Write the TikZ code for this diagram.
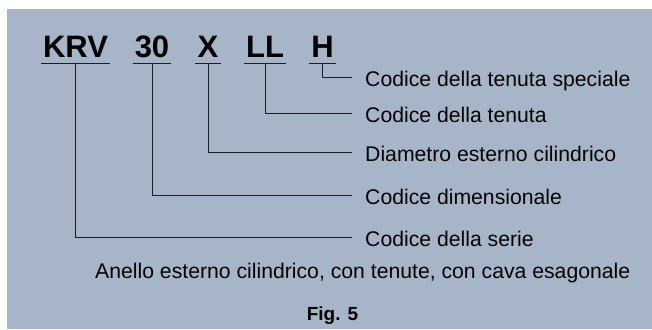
\documentclass[tikz,border=0pt]{standalone}
\usepackage{fontspec}
\setmainfont{Liberation Sans}
\setsansfont{Liberation Sans}
\usepackage{tikz}
\usetikzlibrary{positioning}
\definecolor{panelblue}{HTML}{A7B5C8}
\definecolor{leadgray}{HTML}{1E1E1E}

\begin{document}
\begin{tikzpicture}[
    x=1pt, y=-1pt,
    font=\sffamily,
    code/.style={anchor=base, inner xsep=2pt, inner ysep=0pt, text depth=6pt, font=\sffamily\bfseries\fontsize{31}{31}\selectfont},
    desc/.style={anchor=west, inner xsep=13pt, inner ysep=0pt, text height=20pt, text depth=2pt, font=\sffamily\fontsize{21.2}{25}\selectfont},
    lead/.style={draw=leadgray, line width=1pt}
]
\useasboundingbox (0,0) rectangle (652,329);
\fill[panelblue] (7,9) rectangle (652,329);

% designation code
\node[code] (krv) at (75.5,57) {KRV};
\node[code] (dim) at (152,57) {30};
\node[code] (ext) at (208,57) {X};
\node[code] (ten) at (265,57) {LL};
\node[code] (spe) at (322.5,57) {H};
\foreach \n in {krv,dim,ext,ten,spe}
    \draw[lead] (\n.south west) -- (\n.south east);

% meanings
\node[desc] (spe-l) at (352,77) {Codice della tenuta speciale};
\node[desc] (ten-l) at (352,113.5) {Codice della tenuta};
\node[desc] (ext-l) at (352,152) {Diametro esterno cilindrico};
\node[desc] (dim-l) at (352,195) {Codice dimensionale};
\node[desc] (krv-l) at (352,237) {Codice della serie};

\foreach \n in {krv,dim,ext,ten,spe}
    \draw[lead] (\n.south) |- (\n-l.west);

\node[anchor=base west, inner sep=0pt, font=\sffamily\fontsize{21.2}{25}\selectfont] (ring) at (95,278) {Anello esterno cilindrico, con tenute, con cava esagonale};
\node[anchor=base, inner sep=0pt, font=\sffamily\bfseries\fontsize{19}{19}\selectfont] (fig) at (332.5,320) {Fig. 5};
\end{tikzpicture}
\end{document}
